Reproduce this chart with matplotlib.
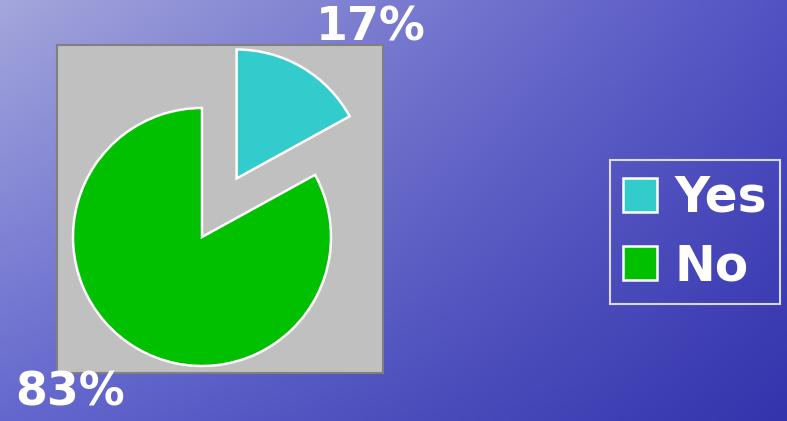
import numpy as np
import matplotlib
matplotlib.use("Agg")
import matplotlib.pyplot as plt

# data
labels = ['Yes', 'No']
values = [17, 83]
colors = ['#33CCCC', '#00C000']

W, H = 787, 421
fig = plt.figure(figsize=(W / 100, H / 100), dpi=100)

# blue background gradient (light top-left -> dark bottom-right)
bg = fig.add_axes([0, 0, 1, 1])
tl = np.array([164, 166, 220]) / 255
tr = np.array([82, 82, 196]) / 255
bl = np.array([100, 104, 206]) / 255
br = np.array([52, 52, 172]) / 255
yy, xx = np.mgrid[0:1:100j, 0:1:200j]
img = ((1 - xx)[..., None] * (1 - yy)[..., None] * tl + xx[..., None] * (1 - yy)[..., None] * tr
       + (1 - xx)[..., None] * yy[..., None] * bl + xx[..., None] * yy[..., None] * br)
bg.imshow(img, aspect='auto', extent=[0, 1, 0, 1], interpolation='bilinear')
bg.axis('off')

# grey plot area, in pixel-like units
x0, y0, x1, y1 = 57, 45, 383, 373
ax = fig.add_axes([x0 / W, 1 - y1 / H, (x1 - x0) / W, (y1 - y0) / H])
ax.set_facecolor('#C0C0C0')
wedges, _ = ax.pie(values, colors=colors, startangle=90, counterclock=False,
                   explode=[68, 0], radius=129, center=(145, 136), frame=True,
                   wedgeprops=dict(edgecolor='white', linewidth=1.8))
ax.set_xlim(0, x1 - x0)
ax.set_ylim(0, y1 - y0)
ax.set_aspect('auto')
ax.set_xticks([])
ax.set_yticks([])
for s in ax.spines.values():
    s.set_color('#808080')
    s.set_linewidth(1.5)

# percentage labels
fig.text(371 / W, 1 - 28 / H, f'{values[0]}%', color='white', fontsize=33,
         fontweight='heavy', ha='center', va='center')
fig.text(70 / W, 1 - 393 / H, f'{values[1]}%', color='white', fontsize=33,
         fontweight='heavy', ha='center', va='center')

leg = fig.legend(wedges, labels, loc='center',
                 bbox_to_anchor=((610 + 780) / 2 / W, 1 - 232 / H),
                 fontsize=35, frameon=True, fancybox=False,
                 handlelength=0.7, handleheight=0.7, handletextpad=0.35,
                 labelspacing=0.42, borderpad=0.28)
frame = leg.get_frame()
frame.set_facecolor('none')
frame.set_edgecolor('white')
frame.set_linewidth(1.5)
for t in leg.get_texts():
    t.set_color('white')
    t.set_fontweight('bold')

plt.savefig('out.png', dpi=100)
